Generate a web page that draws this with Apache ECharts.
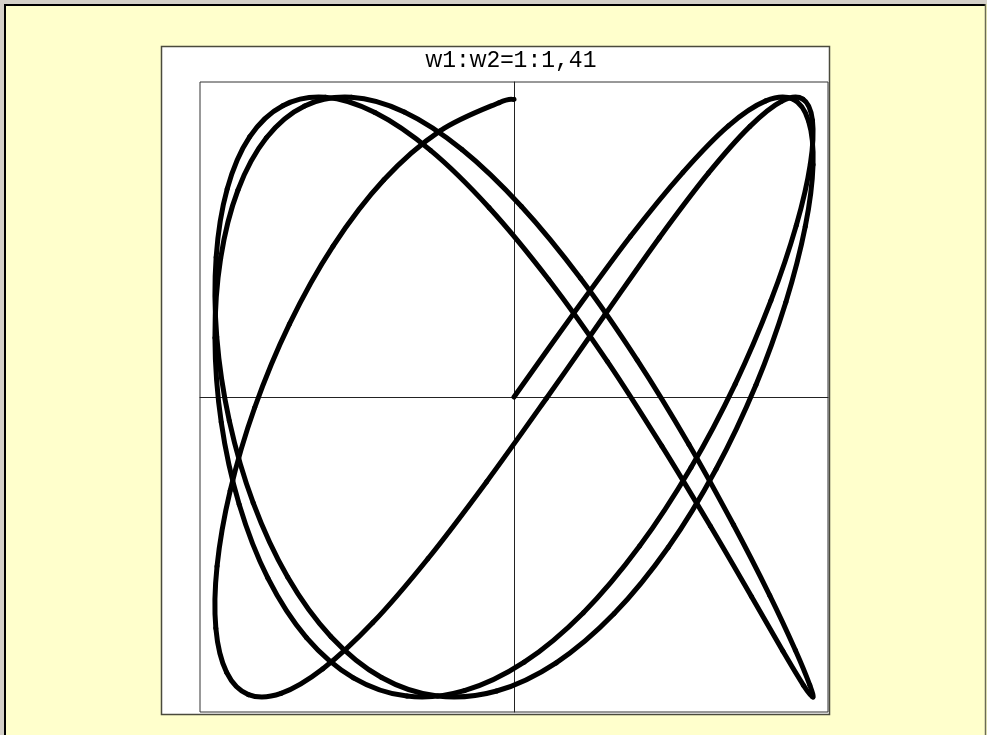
<!DOCTYPE html>
<html>
<head>
<meta charset="utf-8">
<script src="https://cdn.jsdelivr.net/npm/echarts@6/dist/echarts.min.js"></script>
<style>
  html, body { margin: 0; padding: 0; background: #d4d0c8; }
  #chart { width: 987px; height: 735px; }
</style>
</head>
<body>
<div id="chart"></div>
<script>
// Lissajous figure, frequency ratio w1:w2 = 1:1,41 — sampled points of the trace
const titleParts = ['w', '1', ':', 'w', '2', '=', '1:1,41'];

const xValues = [
  0, 0.199, 0.389, 0.565, 0.717, 0.842, 0.932, 0.985, 1.000, 0.974,
  0.909, 0.809, 0.676, 0.516, 0.335, 0.141, -0.058, -0.256, -0.443, -0.612,
  -0.757, -0.872, -0.952, -0.994, -0.996, -0.959, -0.884, -0.773, -0.631, -0.465,
  -0.279, -0.083, 0.117, 0.312, 0.494, 0.657, 0.794, 0.899, 0.968, 0.999,
  0.989, 0.941, 0.855, 0.734, 0.585, 0.412, 0.223, 0.025, -0.174, -0.367,
  -0.544, -0.700, -0.828, -0.923, -0.981, -1.000, -0.979, -0.919, -0.823, -0.694,
  -0.537, -0.358, -0.166, 0.034, 0.232, 0.420, 0.592, 0.740, 0.859, 0.944,
  0.991, 0.998, 0.966, 0.895, 0.789, 0.650, 0.486, 0.304, 0.108, -0.092,
  -0.288, -0.472, -0.639, -0.779, -0.888, -0.961, -0.997, -0.993, -0.949, -0.867,
  -0.751, -0.605, -0.435, -0.247, -0.050, 0.000
];

const yValues = [
  0, 0.278, 0.535, 0.749, 0.904, 0.987, 0.993, 0.920, 0.774, 0.568,
  0.316, 0.040, -0.240, -0.501, -0.722, -0.886, -0.980, -0.997, -0.935, -0.799,
  -0.600, -0.353, -0.079, 0.201, 0.466, 0.694, 0.867, 0.971, 0.999, 0.948,
  0.822, 0.631, 0.390, 0.119, -0.163, -0.431, -0.665, -0.847, -0.961, -1.000,
  -0.960, -0.844, -0.661, -0.426, -0.158, 0.123, 0.395, 0.635, 0.825, 0.950,
  0.999, 0.970, 0.864, 0.690, 0.462, 0.197, -0.084, -0.358, -0.604, -0.802,
  -0.936, -0.997, -0.979, -0.884, -0.719, -0.497, -0.235, 0.044, 0.321, 0.572,
  0.777, 0.922, 0.993, 0.986, 0.902, 0.746, 0.531, 0.274, -0.005, -0.283,
  -0.539, -0.752, -0.906, -0.988, -0.992, -0.918, -0.771, -0.564, -0.312, -0.035,
  0.243, 0.503, 0.724, 0.887, 0.981, 0.992
];

const axisMin = -1.05;
const axisMax = 1.05;

const points = xValues.map((x, i) => [x, yValues[i]]);

const sansChars = ['w', '='];
const titleText = titleParts
  .map(p => (sansChars.includes(p) ? '{s|' + p + '}' : '{m|' + p + '}'))
  .join('');

const traceStyle = {
  fill: 'none',
  stroke: '#000',
  lineWidth: 5,
  lineCap: 'round',
  lineJoin: 'round'
};

// Draws the trace as Catmull-Rom style bezier segments through the sampled points
function renderTrace(params, api) {
  if (params.dataIndex !== 0) return null;
  const pts = points.map(p => api.coord(p));
  const n = pts.length;
  const children = [];
  for (let i = 0; i < n - 1; i++) {
    const p0 = pts[Math.max(i - 1, 0)];
    const p1 = pts[i];
    const p2 = pts[i + 1];
    const p3 = pts[Math.min(i + 2, n - 1)];
    children.push({
      type: 'bezierCurve',
      shape: {
        x1: p1[0], y1: p1[1],
        cpx1: p1[0] + (p2[0] - p0[0]) / 6,
        cpy1: p1[1] + (p2[1] - p0[1]) / 6,
        cpx2: p2[0] - (p3[0] - p1[0]) / 6,
        cpy2: p2[1] - (p3[1] - p1[1]) / 6,
        x2: p2[0], y2: p2[1]
      },
      style: traceStyle
    });
  }
  return { type: 'group', children: children };
}

const chart = echarts.init(document.getElementById('chart'), null, { renderer: 'canvas' });

chart.setOption({
  animation: false,
  backgroundColor: '#FFFFCC',
  graphic: [
    // window frame edges
    { type: 'rect', z: -20, shape: { x: 0, y: 0, width: 987, height: 4 }, style: { fill: '#d4d0c8' } },
    { type: 'rect', z: -20, shape: { x: 0, y: 0, width: 4, height: 735 }, style: { fill: '#d4d0c8' } },
    { type: 'line', z: -19, shape: { x1: 4, y1: 5, x2: 986, y2: 5 }, style: { stroke: '#000', lineWidth: 2 } },
    { type: 'line', z: -19, shape: { x1: 5, y1: 4, x2: 5, y2: 735 }, style: { stroke: '#000', lineWidth: 2 } },
    { type: 'line', z: -19, shape: { x1: 985.5, y1: 4, x2: 985.5, y2: 735 }, style: { stroke: '#6b6b55', lineWidth: 1.5 } },
    // white panel behind the plot
    {
      type: 'rect', z: -15,
      shape: { x: 161.5, y: 46.5, width: 668, height: 668 },
      style: { fill: '#ffffff', stroke: '#4a4a3c', lineWidth: 1.5 }
    },
    {
      type: 'text', z: 10,
      x: 511, y: 61,
      style: {
        text: titleText,
        align: 'center',
        verticalAlign: 'middle',
        rich: {
          s: { fontFamily: 'Liberation Sans', fontSize: 23, fill: '#000' },
          m: { fontFamily: 'Liberation Mono', fontSize: 23, fill: '#000' }
        }
      }
    }
  ],
  grid: {
    left: 200, top: 82, width: 628, height: 630,
    show: true,
    backgroundColor: '#ffffff',
    borderColor: '#333333',
    borderWidth: 1
  },
  xAxis: {
    type: 'value', min: axisMin, max: axisMax,
    axisLine: { show: true, onZero: true, lineStyle: { color: '#222', width: 1 } },
    axisTick: { show: false },
    axisLabel: { show: false },
    splitLine: { show: false }
  },
  yAxis: {
    type: 'value', min: axisMin, max: axisMax,
    axisLine: { show: true, onZero: true, lineStyle: { color: '#222', width: 1 } },
    axisTick: { show: false },
    axisLabel: { show: false },
    splitLine: { show: false }
  },
  series: [{
    type: 'custom',
    coordinateSystem: 'cartesian2d',
    data: points,
    renderItem: renderTrace,
    clip: true
  }]
});
</script>
</body>
</html>
